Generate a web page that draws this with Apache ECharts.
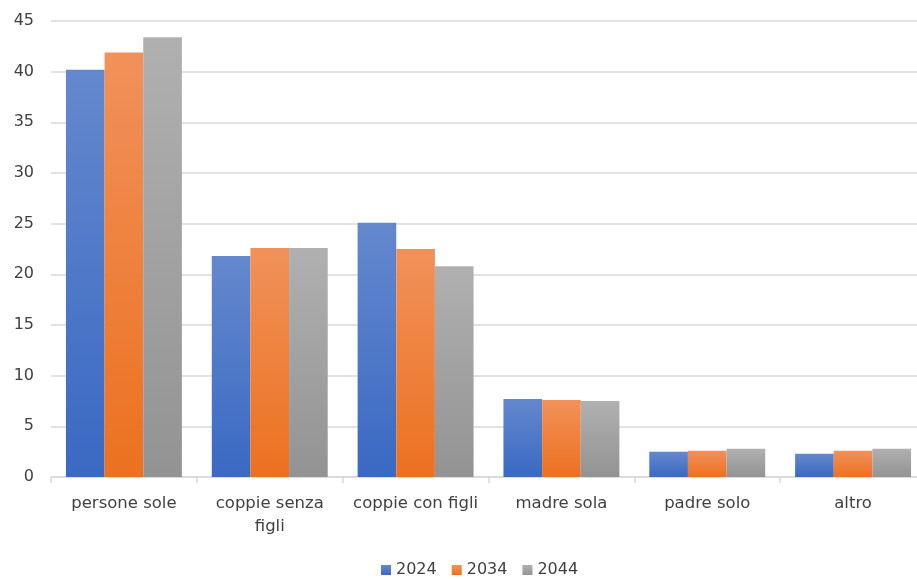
<!DOCTYPE html>
<html><head><meta charset="utf-8">
<script src="https://cdn.jsdelivr.net/npm/echarts@6/dist/echarts.min.js"></script>
<style>html,body{margin:0;padding:0;background:#fff;overflow:hidden}#c{width:930px;height:579px}</style>
</head><body><div id="c"></div>
<script>
const categories = ['persone sole', 'coppie senza\nfigli', 'coppie con figli', 'madre sola', 'padre solo', 'altro'];
const seriesNames = ['2024', '2034', '2044'];
const values2024 = [40.2, 21.8, 25.1, 7.7, 2.5, 2.3];
const values2034 = [41.9, 22.6, 22.5, 7.6, 2.6, 2.6];
const values2044 = [43.4, 22.6, 20.8, 7.5, 2.8, 2.8];
const yTicks = [0, 5, 10, 15, 20, 25, 30, 35, 40, 45];

const grads = [
  ['#6488cd', '#3a69c3'],
  ['#f1915a', '#ec711f'],
  ['#b0b0b0', '#939393']
];
const FONT = '"DejaVu Sans", sans-serif';
const chart = echarts.init(document.getElementById('c'), null, {renderer: 'canvas'});
const data = [values2024, values2034, values2044];
chart.setOption({
  animation: false,
  backgroundColor: '#ffffff',
  grid: {left: 51, width: 875, top: 21, height: 456, containLabel: false},
  legend: {
    top: 562, left: 381, padding: 0, itemWidth: 10, itemHeight: 10, itemGap: 15,
    icon: 'rect',
    textStyle: {fontFamily: FONT, fontSize: 16, color: '#404040'},
    data: seriesNames
  },
  xAxis: {
    type: 'category', data: categories,
    axisLine: {lineStyle: {color: '#d9d9d9', width: 1.5}},
    axisTick: {show: true, length: 6, lineStyle: {color: '#d9d9d9', width: 1.5}},
    axisLabel: {fontFamily: FONT, fontSize: 16.5, color: '#404040', margin: 15, lineHeight: 23, interval: 0}
  },
  yAxis: {
    type: 'value', min: yTicks[0], max: yTicks[yTicks.length - 1], interval: 5,
    axisLine: {show: false}, axisTick: {show: false},
    axisLabel: {fontFamily: FONT, fontSize: 16, color: '#404040', margin: 17},
    splitLine: {lineStyle: {color: '#d9d9d9', width: 1.5}}
  },
  series: seriesNames.map((n, i) => ({
    name: n, type: 'bar', data: data[i],
    barGap: '0%', barCategoryGap: '20.5%',
    itemStyle: {color: new echarts.graphic.LinearGradient(0, 0, 0, 1, [
      {offset: 0, color: grads[i][0]}, {offset: 1, color: grads[i][1]}])}
  }))
});
</script></body></html>
